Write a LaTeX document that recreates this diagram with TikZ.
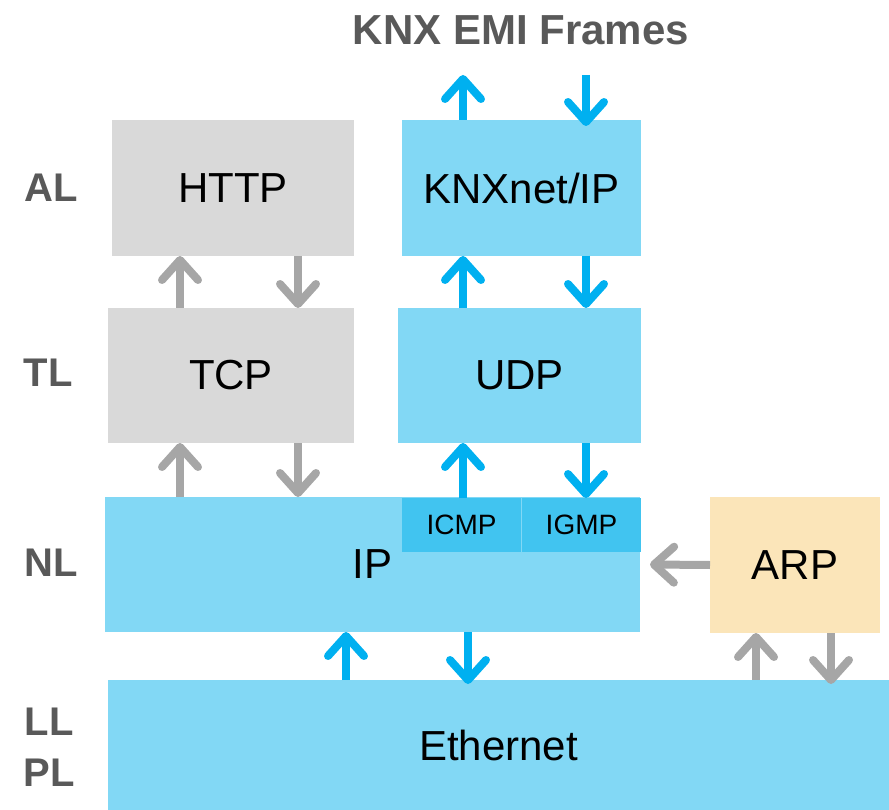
\documentclass[tikz,border=0pt]{standalone}
\usepackage{fontspec}
\setmainfont{Liberation Sans}
\usetikzlibrary{arrows.meta}
\definecolor{lblue}{HTML}{82D8F5}
\definecolor{mblue}{HTML}{41C4F0}
\definecolor{ablue}{HTML}{00B0F0}
\definecolor{lgray}{HTML}{D9D9D9}
\definecolor{agray}{HTML}{A6A6A6}
\definecolor{tgray}{HTML}{595959}
\definecolor{sand}{HTML}{FBE5B9}
\begin{document}
\begin{tikzpicture}[x=1pt,y=-1pt,
  layer/.style={anchor=north west, inner sep=0pt, outer sep=0pt,
    font=\fontsize{42}{48}\selectfont, text=black},
  sublayer/.style={layer, fill=mblue, font=\fontsize{28}{32}\selectfont},
  tag/.style={font=\bfseries\fontsize{40}{46}\selectfont, text=tgray},
  flow/.style={line width=8pt, -{Straight Barb[round,length=20pt,width=36pt]}},
  bflow/.style={flow, draw=ablue},
  gflow/.style={flow, draw=agray}]
\useasboundingbox (0,0) rectangle (889,810);

% protocol boxes
\node[layer, fill=lgray, minimum width=242pt, minimum height=136pt] (http) at (112,120) {HTTP};
\node[layer, fill=lblue, minimum width=239pt, minimum height=136pt] (knx) at (402,120) {KNXnet/IP};
\node[layer, fill=lgray, minimum width=246pt, minimum height=135pt] (tcp) at (108,308) {TCP};
\node[layer, fill=lblue, minimum width=243pt, minimum height=135pt] (udp) at (398,308) {UDP};
\node[layer, fill=lblue, minimum width=535pt, minimum height=135pt] (ip) at (105,497) {IP};
\node[sublayer, minimum width=119pt, minimum height=54pt] (icmp) at (402,498) {ICMP};
\node[sublayer, minimum width=119pt, minimum height=54pt] (igmp) at (522,498) {IGMP};
\node[layer, fill=sand, minimum width=170pt, minimum height=136pt] (arp) at (710,497) {ARP};
\node[layer, fill=lblue, minimum width=781pt, minimum height=130pt] (eth) at (108,680) {Ethernet};

% layer tags and title
\node[tag] (al) at (51,188) {AL};
\node[tag] (tl) at (48,373) {TL};
\node[tag] (nl) at (51,563) {NL};
\node[tag] (ll) at (49,722) {LL};
\node[tag] (pl) at (49,773) {PL};
\node[tag, font=\bfseries\fontsize{42}{48}\selectfont] (emi) at (521,30) {KNX EMI Frames};

% arrow columns
\coordinate (c180) at (180,0);
\coordinate (c298) at (298,0);
\coordinate (c463) at (463,0);
\coordinate (c586) at (586,0);
\coordinate (c346) at (346,0);
\coordinate (c468) at (468,0);
\coordinate (c756) at (756,0);
\coordinate (c831) at (831,0);
\coordinate (emiup) at (463,75);
\coordinate (emidown) at (586,75);

% frames to/from KNXnet/IP
\draw[bflow] (knx.north -| c463) -- (emiup);
\draw[bflow] (emidown) -- ([yshift=-6pt]knx.north -| c586);
% KNXnet/IP <-> UDP
\draw[bflow] (udp.north -| c463) -- (knx.south -| c463);
\draw[bflow] (knx.south -| c586) -- (udp.north -| c586);
% UDP <-> IP
\draw[bflow] (icmp.north -| c463) -- (udp.south -| c463);
\draw[bflow] (udp.south -| c586) -- (igmp.north -| c586);
% HTTP <-> TCP
\draw[gflow] (tcp.north -| c180) -- (http.south -| c180);
\draw[gflow] (http.south -| c298) -- (tcp.north -| c298);
% TCP <-> IP
\draw[gflow] (ip.north -| c180) -- (tcp.south -| c180);
\draw[gflow] (tcp.south -| c298) -- (ip.north -| c298);
% IP <-> Ethernet
\draw[bflow] (eth.north -| c346) -- (ip.south -| c346);
\draw[bflow] (ip.south -| c468) -- ([yshift=-4pt]eth.north -| c468);
% ARP
\draw[gflow] (arp.west) -- ([xshift=10pt]ip.east);
\draw[gflow] (eth.north -| c756) -- (arp.south -| c756);
\draw[gflow] (arp.south -| c831) -- ([yshift=-4pt]eth.north -| c831);
\end{tikzpicture}
\end{document}
